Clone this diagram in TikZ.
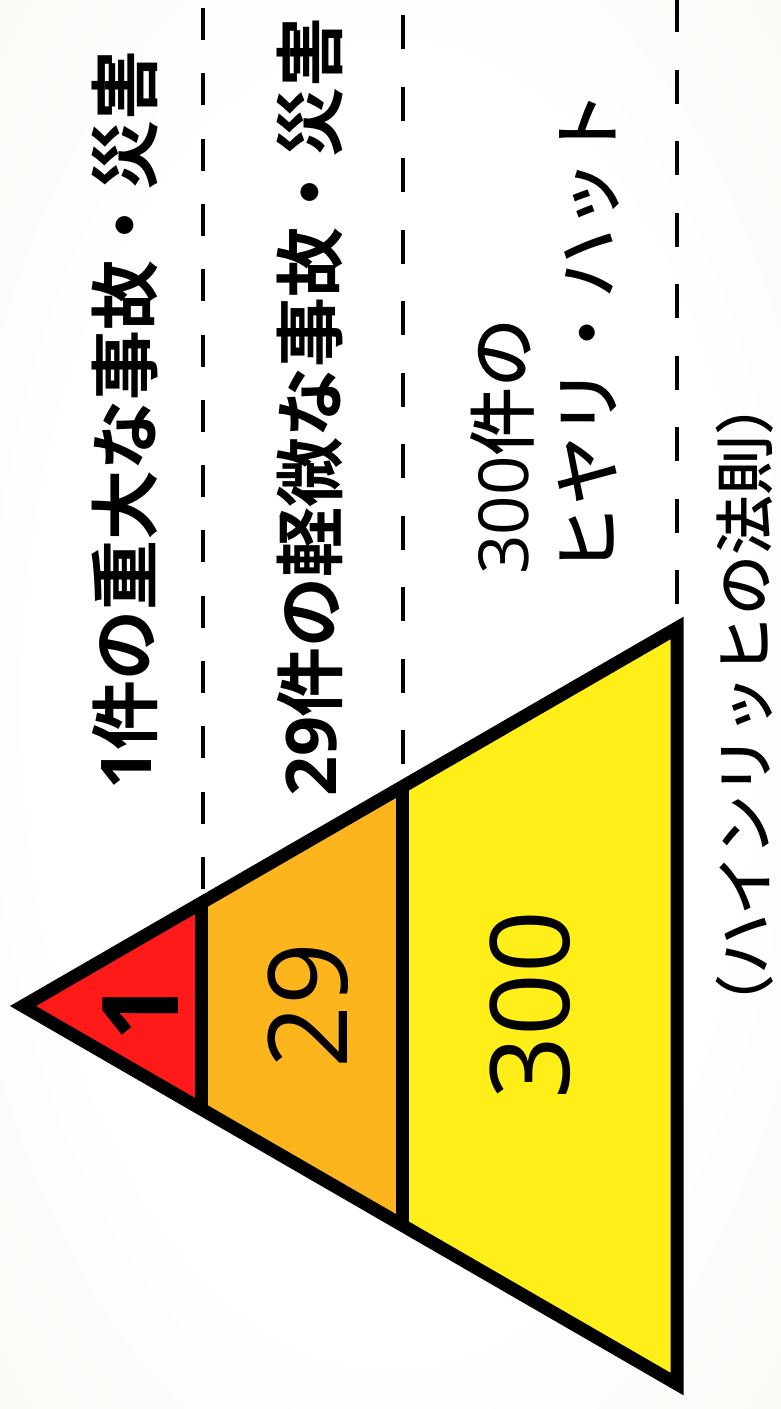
\documentclass[tikz,border=0pt]{standalone}
\usepackage{fontspec}
\newfontfamily\jpb{Noto Sans CJK JP Bold}
\newfontfamily\jpm{Noto Sans CJK JP Medium}
\newfontfamily\lat{Open Sans}
\definecolor{bgout}{RGB}{235,240,222}
\definecolor{tred}{RGB}{255,26,26}
\definecolor{torange}{RGB}{253,181,30}
\definecolor{tyellow}{RGB}{255,238,24}
\pgfdeclareradialshading{bgrad}{\pgfpoint{0bp}{0bp}}{color(0bp)=(white);color(22bp)=(white);color(72bp)=(bgout)}
\begin{document}
\begin{tikzpicture}[x=1pt,y=-1pt,
  lbl/.style={font=\jpb\fontsize{70}{84}\selectfont, rotate=90, inner sep=0pt},
  lblreg/.style={font=\jpm\fontsize{69}{85}\selectfont, rotate=90, inner sep=0pt, align=left},
  note/.style={font=\jpm\fontsize{60}{70}\selectfont, rotate=90, inner sep=0pt},
  num/.style={font=\lat\fontsize{110}{120}\selectfont, rotate=90, inner sep=0pt},
  numb/.style={font=\lat\bfseries\fontsize{106}{120}\selectfont, rotate=90, inner sep=0pt},
  dashA/.style={line width=4.5pt, dash pattern=on 32pt off 33.3pt},
  dashB/.style={line width=4.5pt, dash pattern=on 34pt off 37.5pt},
  outline/.style={line width=13pt, line join=miter, miter limit=10}]
\useasboundingbox (0,0) rectangle (781,1409);
\fill[shading=bgrad] (0,0) rectangle (781,1409);
% key points of the triangle
\coordinate (apex) at (23,1006);
\coordinate (tr) at (677,628);
\coordinate (br) at (677,1384);
\coordinate (a1) at (201,903.2);
\coordinate (b1) at (201,1108.8);
\coordinate (a2) at (402,787.2);
\coordinate (b2) at (402,1224.8);
% dashed guide lines
\coordinate (t1) at (203,8);
\coordinate (e1) at (203,905);
\coordinate (t2) at (403,15);
\coordinate (e2) at (403,790);
\coordinate (t3) at (677,-2);
\coordinate (e3) at (677,628);
\draw[dashA] (t1) -- (e1);
\draw[dashB] (t2) -- (e2);
\draw[dashB] (t3) -- (e3);
% fills
\fill[tred] (apex) -- (a1) -- (b1) -- cycle;
\fill[torange] (a1) -- (a2) -- (b2) -- (b1) -- cycle;
\fill[tyellow] (a2) -- (tr) -- (br) -- (b2) -- cycle;
\draw[line width=13pt] (a1) -- (b1);
\draw[line width=13pt] (a2) -- (b2);
\draw[outline] (apex) -- (tr) -- (br) -- cycle;
% numbers
\node[numb] (n1) at (141,1011) {1};
\node[num] (n29) at (308,1006) {29};
\node[num] (n300) at (530,1005) {300};
% labels
\node[lbl] (l1) at (125,420) {{\lat\bfseries 1}件の重大な事故・災害};
\node[lbl] (l2) at (310,407) {{\lat\bfseries 29}件の軽微な事故・災害};
\node[lblreg] (l3) at (545,333) {{\lat 300}件の\\ヒヤリ・ハット};
\node[note] (l4) at (745,705) {（ハインリッヒの法則）};
\end{tikzpicture}
\end{document}
